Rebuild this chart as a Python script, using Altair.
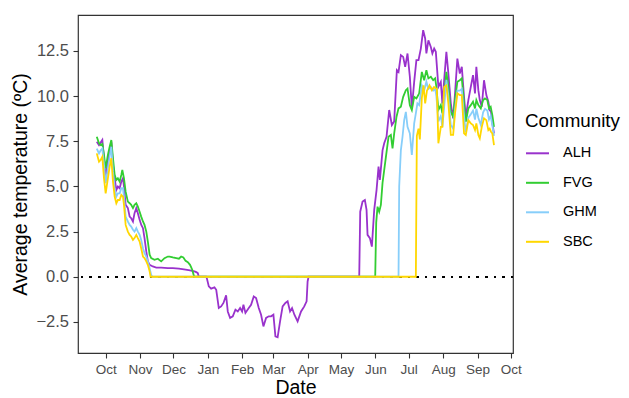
import altair as alt
import pandas as pd

BASE_DATE = "2018-10-01"
communities = ["ALH", "FVG", "GHM", "SBC"]
palette = ["#9932CC", "#32CD32", "#87CEFA", "#FFD700"]
y_ticks = [-2.5, 0.0, 2.5, 5.0, 7.5, 10.0, 12.5]

# days after 1 Oct 2018, daily mean temperature (ºC)
alh_days = [-8, -6, -3, -1.5, 0, 2, 3.6, 5.1, 6.6, 8.1, 9.6, 11, 12.6, 14.1, 15.6, 16.5, 18, 20, 21.6, 23,
            24.6, 26, 27.6, 29, 30.6, 32.1, 33.6, 35, 36.6, 38, 39.6, 42.5, 45.6, 50, 56, 60.5, 66, 72, 76, 80,
            81.6, 83, 83.9, 90.5, 91.1, 92.9, 95, 98, 99.6, 101.9, 104, 106.1, 108.5, 110, 112.1, 114.5, 116.9,
            119, 121.1, 122.9, 124.1, 125.9, 128.9, 131, 133.4, 135.5, 137.9, 140, 142.1, 144.5, 146.9, 149,
            151.1, 152.9, 154.9, 157.1, 159.4, 161.9, 163.9, 166.1, 167.9, 170, 172.9, 176, 178.9, 181, 181.9,
            182.8, 228.4, 229.3, 231.4, 233.5, 235, 235.9, 238, 239.8, 241.9, 244, 245.8, 247, 249.4, 250.9,
            253, 255.4, 257.8, 259.9, 262.3, 263.8, 265.9, 268, 269.8, 271.9, 274, 275.8, 277.9, 279.9, 281.8,
            283.9, 286, 287.8, 288.9, 290.7, 292.9, 294.3, 295.9, 297.4, 299.7, 301.9, 303.3, 304.9, 306.9,
            308.7, 310.9, 313, 314.7, 316.8, 319, 320.8, 322.8, 324.4, 326.7, 328.9, 330.9, 332.7, 333.9,
            335.7, 337, 338.8, 340.8, 342.9, 344.7, 345.9, 347.1, 348.3, 349.8]
alh_temp = [7.48, 7.29, 7.57, 6.56, 5.45, 6.37, 6.92, 7.48, 6.19, 5.45, 4.8, 4.99, 4.9, 5.27, 5.45, 4.99, 3.98,
            3.8, 3.33, 3.24, 3.06, 3.52, 3.8, 3.52, 3.15, 2.87, 2.69, 2.14, 1.4, 0.85, 0.66, 0.57, 0.51, 0.51,
            0.48, 0.48, 0.45, 0.39, 0.35, 0.3, 0.26, 0.2, 0.0, 0.0, -0.07, -0.53, -0.66, -0.59, -0.72, -1.73,
            -1.64, -1.45, -1.03, -1.92, -2.28, -2.19, -1.82, -1.92, -1.73, -1.92, -1.55, -2.0, -1.73, -1.55,
            -1.09, -1.18, -1.73, -2.1, -2.75, -2.28, -2.19, -2.19, -2.1, -3.3, -3.35, -2.47, -1.64, -1.45,
            -1.36, -1.92, -1.73, -2.1, -2.47, -1.92, -1.64, -1.36, -0.26, 0.0, 0.0, 3.6, 4.16, 4.25, 3.7, 2.32,
            2.14, 1.67, 3.7, 4.8, 6.1, 5.36, 7.0, 7.39, 7.75, 9.23, 8.4, 8.6, 11.44, 11.34, 12.27, 12.17, 11.62,
            12.36, 11.07, 9.32, 10.79, 11.99, 11.99, 12.63, 13.65, 13.19, 12.36, 13.09, 12.72, 12.36, 12.63,
            12.45, 10.51, 10.79, 9.6, 10.88, 12.45, 11.25, 9.6, 8.77, 10.15, 12.08, 11.25, 11.62, 9.96, 8.86,
            9.78, 10.51, 11.16, 10.15, 11.62, 10.33, 9.78, 9.41, 10.88, 10.06, 9.69, 9.23, 9.13, 8.49, 7.94]

fvg_days = [-8, -6, -4.5, -3, -1.5, 0, 2, 3.6, 5.1, 6.6, 8.1, 9.6, 11, 12.6, 14.1, 15, 16.5, 18, 20, 21.6, 23,
            24.6, 26, 27.6, 29, 30.6, 32, 33.6, 35, 36.6, 38, 39.6, 41, 44, 47, 50, 53, 56, 57.6, 60.5, 63.6, 66,
            68, 70, 72, 74, 76, 78, 79.4, 80.3, 242.8, 243.7, 244.9, 246.4, 247.9, 249.4, 250.9, 253, 254.8,
            256.9, 258.4, 259.9, 262, 263.8, 265.9, 268, 270.4, 271.9, 274, 275.8, 277.9, 279.9, 282.4, 284.8,
            286.9, 288.9, 290.7, 292.9, 295, 296.8, 297.9, 299.7, 301.9, 303.3, 304.9, 306.9, 308.7, 310.9, 313,
            314.7, 316.8, 319, 320.8, 322.8, 324.4, 326.7, 328.9, 330.9, 332.7, 333.9, 335.7, 337.9, 340, 341.7,
            343.8, 345.3, 346.8, 348.3, 349.8]
fvg_temp = [7.75, 7.39, 7.29, 7.35, 6.74, 6.0, 6.74, 7.2, 7.57, 6.56, 5.64, 5.36, 5.45, 5.27, 5.64, 5.91, 5.45,
            4.71, 4.16, 4.07, 3.98, 3.8, 3.98, 4.07, 3.88, 3.6, 3.33, 3.06, 2.87, 2.5, 1.95, 1.22, 1.03, 0.94,
            1.0, 0.85, 1.03, 1.12, 1.12, 1.07, 1.03, 1.0, 1.12, 1.07, 0.88, 0.81, 0.66, 0.39, 0.07, 0.0, 0.0,
            3.0, 3.88, 3.6, 3.98, 5.2, 5.9, 6.9, 7.75, 7.85, 7.1, 7.94, 8.86, 9.32, 9.41, 9.96, 10.33, 10.42,
            9.5, 9.23, 9.96, 9.87, 10.15, 11.34, 10.88, 11.44, 10.98, 11.07, 10.88, 10.98, 10.51, 9.23, 9.5,
            9.04, 9.96, 11.34, 10.51, 9.13, 8.86, 9.78, 10.79, 10.88, 10.98, 9.6, 8.58, 9.32, 9.5, 9.69, 9.32,
            9.78, 9.5, 9.32, 9.78, 9.87, 9.78, 9.32, 9.41, 8.95, 8.3]

ghm_days = [-8, -6, -4.5, -3, -1.5, 0, 2, 3.6, 5.1, 6.6, 8.1, 9.6, 11, 12.6, 14.1, 15.6, 16.5, 18, 20, 21.6, 23,
            24.6, 26, 27.6, 29, 30.6, 32, 33.6, 35, 36.6, 38, 39.6, 41, 42, 263.8, 264.4, 265.9, 267.4, 268.9,
            270.4, 271.9, 274, 275.8, 277.9, 279.4, 280.8, 282.4, 284.8, 286.9, 288.9, 290.7, 292.9, 295,
            296.8, 297.9, 299.7, 301.9, 303.3, 304.9, 306.9, 308.7, 310.9, 313, 314.7, 316.8, 319, 320.8,
            322.8, 324.4, 326.7, 328.9, 330.9, 332.7, 333.9, 335.7, 337.9, 340, 341.7, 343.8, 345.3, 346.8,
            348.3, 349.8]
ghm_temp = [7.1, 6.83, 7.0, 7.1, 6.19, 5.18, 6.0, 6.65, 7.2, 5.82, 4.9, 4.44, 4.62, 4.62, 4.9, 4.9, 4.44, 3.33,
            3.06, 2.87, 2.78, 2.6, 2.5, 2.69, 2.5, 2.32, 2.04, 1.58, 1.31, 1.12, 0.85, 0.48, 0.11, 0.0, 0.0, 5.0,
            7.0, 7.75, 8.67, 9.13, 8.3, 7.94, 6.74, 8.49, 9.04, 9.6, 9.5, 10.6, 10.3, 10.8, 10.4, 10.5, 10.3,
            10.4, 10.0, 8.6, 8.9, 8.3, 9.4, 10.9, 10.0, 8.4, 8.2, 9.3, 10.3, 10.3, 10.4, 8.9, 8.0, 8.8, 9.0, 9.2,
            8.7, 9.3, 8.8, 8.4, 9.1, 9.3, 9.2, 8.7, 8.9, 8.4, 7.8]

sbc_days = [-8, -6, -4.5, -3, -1.5, 0, 2, 3.6, 5.1, 6.6, 8.1, 9.6, 11, 12.6, 14.1, 15.6, 16.5, 18, 20, 21.6, 23,
            24.6, 26, 27.6, 29, 30.6, 32, 33.6, 35, 36.6, 38, 39.6, 40.5, 279.4, 280.3, 281.8, 283, 284.8,
            286.3, 287.8, 289.4, 291.7, 293.8, 295.8, 298.3, 299.7, 301.9, 303.3, 304.9, 306.9, 308.7, 310.9,
            313, 314.7, 316.8, 319, 320.8, 322.8, 324.4, 326.7, 328.9, 330.9, 332.7, 333.9, 335.7, 337, 338.8,
            340.8, 342.9, 344.7, 345.9, 347.1, 348.3, 349.8]
sbc_temp = [6.83, 6.37, 6.47, 6.65, 5.45, 4.62, 5.45, 6.1, 6.56, 5.27, 4.44, 4.07, 4.25, 4.25, 4.53, 4.44, 3.98,
            2.87, 2.5, 2.32, 2.23, 2.04, 2.14, 2.32, 2.14, 1.95, 1.58, 1.12, 1.03, 0.85, 0.66, 0.3, 0.0, 0.0,
            7.8, 8.2, 7.6, 9.9, 10.6, 9.6, 10.3, 10.6, 10.33, 10.5, 10.4, 7.39, 8.3, 8.3, 10.51, 10.6, 9.6, 7.85,
            7.85, 9.04, 10.15, 10.06, 10.06, 7.94, 7.85, 8.67, 8.49, 8.4, 8.12, 8.49, 7.85, 7.66, 8.3, 8.77,
            8.67, 8.12, 8.2, 8.03, 7.94, 7.29]

series = [("ALH", alh_days, alh_temp), ("FVG", fvg_days, fvg_temp),
          ("GHM", ghm_days, ghm_temp), ("SBC", sbc_days, sbc_temp)]
frames = []
for name, days, temps in series:
    frames.append(pd.DataFrame({
        "Community": name,
        "Date": pd.Timestamp(BASE_DATE) + pd.to_timedelta(days, unit="D"),
        "Temp": temps,
    }))
df = pd.concat(frames, ignore_index=True)

FONT = "Liberation Sans"

x_enc = alt.X("Date:T", title="Date",
              scale=alt.Scale(domain=[alt.DateTime(year=2018, month=9, date=6, hours=2),
                                      alt.DateTime(year=2019, month=10, date=2, hours=22)]),
              axis=alt.Axis(format="%b", tickCount={"interval": "month", "step": 1}, grid=False,
                            domain=False, labelFlush=False, labelOverlap=False,
                            labelFontSize=13.5, labelPadding=4, titlePadding=3))
y_enc = alt.Y("Temp:Q", title="Average temperature (ºC)",
              scale=alt.Scale(domain=[-4.22, 14.49], nice=False, zero=False),
              axis=alt.Axis(values=y_ticks, format=".1f", grid=False, domain=False,
                            labelFontSize=16.5, labelPadding=4.5, titlePadding=5))

zero_line = alt.Chart(df).mark_rule(color="black", strokeDash=[1.8, 6.8], strokeWidth=1.6).encode(
    y=alt.datum(0))

lines = alt.Chart(df).mark_line(strokeWidth=1.8, interpolate="linear").encode(
    x=x_enc, y=y_enc,
    color=alt.Color("Community:N", scale=alt.Scale(domain=communities, range=palette),
                    legend=alt.Legend(title="Community", orient="none", legendX=447, legendY=97,
                                      symbolType="stroke", symbolSize=529, symbolStrokeWidth=2,
                                      rowPadding=10.5, titlePadding=10, labelOffset=13, padding=0)),
    order=alt.Order("Date:T"),
)

chart = alt.layer(zero_line, lines).properties(
    width=435, height=338,
    autosize=alt.AutoSizeParams(type="none"),
    padding={"left": 70, "top": 7, "right": 108, "bottom": 44},
).configure_view(
    stroke="#333333", strokeWidth=1.2
).configure_axis(
    labelFont=FONT, titleFont=FONT, titleFontSize=19.5,
    labelColor="#4D4D4D", titleColor="black", tickColor="#333333", tickSize=5,
    tickWidth=1.1, titleFontWeight="normal"
).configure_legend(
    titleFont=FONT, labelFont=FONT, titleFontSize=18.8, labelFontSize=14.5,
    titleFontWeight="normal", titleColor="black", labelColor="black"
)

chart.save("out.html", embed_options={"renderer": "svg", "actions": False})
